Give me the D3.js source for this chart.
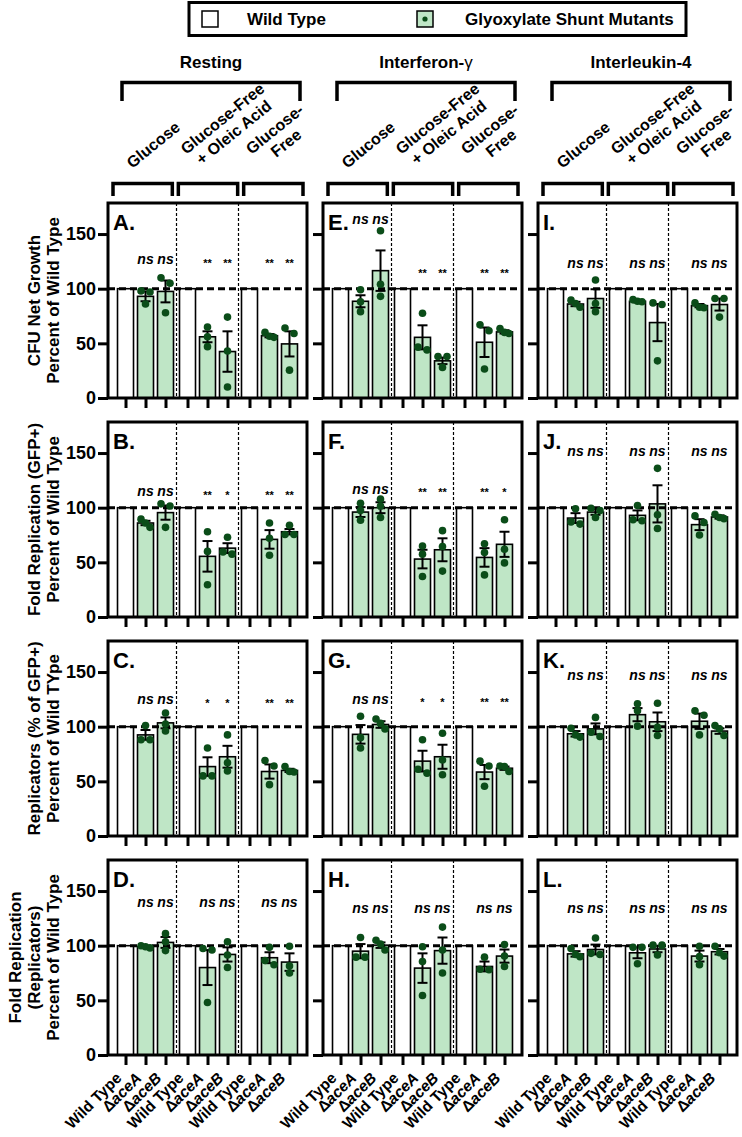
<!DOCTYPE html>
<html><head><meta charset="utf-8">
<script src="https://cdn.jsdelivr.net/npm/d3@7"></script>
<style>
body{margin:0;background:#fff}
svg{display:block}
text{font-family:"Liberation Sans",Arial,Helvetica,sans-serif;fill:#000}
</style>
</head><body>
<svg id="chart" width="742" height="1137"></svg>
<script>
// ---------- labels ----------
const legendLabels = ["Wild Type", "Glyoxylate Shunt Mutants"];
const stimuli = ["Resting", "Interferon-", "Interleukin-4"];
const stimulusSymbols = ["", "γ", ""];
const conditions = [["Glucose"], ["Glucose-Free", "+ Oleic Acid"], ["Glucose-", "Free"]];
const strainPrefix = ["", "Δ", "Δ"];
const strainNames = ["Wild Type", "aceA", "aceB"];
const metricTitles = [
  ["CFU Net Growth", "Percent of Wild Type"],
  ["Fold Replication (GFP+)", "Percent of Wild Type"],
  ["Replicators (% of GFP+)", "Percent of Wild TYpe"],
  ["Fold Replication", "(Replicators)", "Percent of Wild Type"]
];
const panelLetters = [["A","E","I"],["B","F","J"],["C","G","K"],["D","H","L"]];
const yTicks = [0, 50, 100, 150];
const wildTypeValue = 100;

// ---------- data: rows = [mean, SEM, point1, point2, point3]
// order: Glucose ΔaceA, Glucose ΔaceB, GF+Oleic ΔaceA, GF+Oleic ΔaceB, GF ΔaceA, GF ΔaceB
const panelA = [[93,4.5,98,97,86],[97.5,10,110,105,78],[56,5,65,56,47],[42.5,18.5,74,43,10],[57,1.5,60,56.5,55.5],[49.5,11.5,64,59,25.5]];
const panelB = [[86,2,89.5,82,86],[95.5,6.5,103.5,101.5,82],[55.5,14,78,60,29.5],[63,4.5,73,57.5,59.5],[71,8.5,86,72,56.5],[78,2.5,84,75.5,75.5]];
const panelC = [[92.5,4.5,101,88,88],[103.5,5,112.5,102.5,96],[63.5,8.5,80.5,55,55],[72.5,10,92.5,67,59.5],[59,6.5,69,64,47],[60,1.5,63.5,59,58.5]];
const panelD = [[99,0.8,100,99,98],[103,5,111,103.5,95.5],[80,16,97.5,96,48],[92,6.5,103.5,91.5,80],[89,5,98.5,82.5,86.5],[85,8,99.5,75,81.5]];
const panelE = [[88.5,5.5,99,88,79],[116.5,18.5,153,104,93],[55.5,11,77.5,44,46.5],[34,3,38,38,28],[51,13.5,67,61.5,26.5],[60.5,1.5,63.5,60,59]];
const panelF = [[96,4.5,104,97.5,88.5],[100,5,108,101.5,91],[53,8.5,65,57.5,37],[61.5,10.5,79,64.5,42],[54.5,8.5,67,59,38.5],[66.5,11.5,89,62,49.5]];
const panelG = [[93,8.5,109.5,90,80.5],[102,3,107,103,98],[68.5,9.5,88,57.5,61],[72.5,11,94,69.5,56],[58.5,6.5,68.5,64,45.5],[62,1.5,64,63.5,59]];
const panelH = [[95,6.5,107.5,89.5,89.5],[100.5,2.5,105,101.5,96],[79.5,13.5,99,85.5,54.5],[95.5,12,117,96,75],[81,4.5,89.5,78,78.5],[90.5,6,101,90.5,81]];
const panelI = [[86,2,89.5,83,86.5],[91,8.5,108,86.5,79],[88.5,1,90,88.5,88],[69,17,87,85.5,34],[84.5,1.5,87,83,82.5],[85.5,5.5,91,91,74]];
const panelJ = [[90.5,4.5,99,85,87],[96,2.5,99.5,97.5,91],[93,4.5,102,88,89],[103.5,17,136,93.5,81],[84.5,5,92.5,86.5,75],[91.5,1.5,94,91,90]];
const panelK = [[93.5,2.5,98.5,90.5,92.5],[98,5,108.5,91,95],[111,6,121,114.5,100.5],[104.5,8.5,121.5,99.5,92],[105,7,114.5,110.5,92.5],[96,2.5,101,98,92]];
const panelL = [[92.5,2.5,97.5,90,92],[96.5,4.5,107,92,93],[93.5,5,98.5,98.5,83.5],[97,3,100.5,100.5,91.5],[90.5,5,99.5,90,82.5],[94.5,2.5,99.5,93.5,90.5]];

// significance labels (same order as data rows)
const sigA = ["ns","ns","**","**","**","**"];
const sigB = ["ns","ns","**","*","**","**"];
const sigC = ["ns","ns","*","*","**","**"];
const sigD = ["ns","ns","ns","ns","ns","ns"];
const sigE = ["ns","ns","**","**","**","**"];
const sigF = ["ns","ns","**","**","**","*"];
const sigG = ["ns","ns","*","*","**","**"];
const sigH = ["ns","ns","ns","ns","ns","ns"];
const sigI = ["ns","ns","ns","ns","ns","ns"];
const sigJ = ["ns","ns","ns","ns","ns","ns"];
const sigK = ["ns","ns","ns","ns","ns","ns"];
const sigL = ["ns","ns","ns","ns","ns","ns"];
// label heights (y value) per condition group
const sigLevelA = [126,126,126], sigLevelB = [114,114,114], sigLevelC = [124.5,124.5,124.5], sigLevelD = [139,139,139];
const sigLevelE = [163,117,117], sigLevelF = [116,117,117], sigLevelG = [124,125,125], sigLevelH = [133,133,133];
const sigLevelI = [122.5,122.5,122.5], sigLevelJ = [150.5,150.5,150.5], sigLevelK = [146.5,146.5,146.5], sigLevelL = [133,133,133];

// ---------- tables built from arrays ----------
const dataTable = {A:panelA,B:panelB,C:panelC,D:panelD,E:panelE,F:panelF,G:panelG,H:panelH,I:panelI,J:panelJ,K:panelK,L:panelL};
const sigTable = {A:sigA,B:sigB,C:sigC,D:sigD,E:sigE,F:sigF,G:sigG,H:sigH,I:sigI,J:sigJ,K:sigK,L:sigL};
const levelTable = {A:sigLevelA,B:sigLevelB,C:sigLevelC,D:sigLevelD,E:sigLevelE,F:sigLevelF,G:sigLevelG,H:sigLevelH,I:sigLevelI,J:sigLevelJ,K:sigLevelK,L:sigLevelL};

// ---------- style ----------
const GREEN = "#bfe6c6", DOT = "#0b4d19";
const svg = d3.select("#chart");

const colScale = d3.scaleBand().domain([0,1,2]).range([108,737]).paddingInner(16/215).paddingOuter(0);
const rowScale = d3.scaleBand().domain([0,1,2,3]).range([203,1055]).paddingInner(24/219).paddingOuter(0);
const PW = colScale.bandwidth(), PH = rowScale.bandwidth();
const yMax = 178.4;
const groupScale = d3.scaleBand().domain([0,1,2]).range([0,PW]).paddingInner(0).paddingOuter(0.105);
const strainScale = d3.scaleBand().domain([0,1,2]).range([0,groupScale.bandwidth()]).paddingInner(0.2).paddingOuter(0.15);
const bracketScale = d3.scaleBand().domain([0,1,2]).range([5,PW-4]).paddingInner(0.092);
const bw = strainScale.bandwidth();
const cx = (gi, si) => groupScale(gi) + strainScale(si) + bw/2;

// ---------- legend ----------
const leg = svg.append("g");
leg.append("rect").attr("x",189).attr("y",2.5).attr("width",497).attr("height",33).attr("fill","none").attr("stroke","#000").attr("stroke-width",3);
leg.append("rect").attr("x",202).attr("y",11).attr("width",16).attr("height",16).attr("fill","#fff").attr("stroke","#000").attr("stroke-width",1.5);
leg.append("text").attr("x",247).attr("y",25).attr("font-size",17).attr("font-weight","bold").text(legendLabels[0]);
leg.append("rect").attr("x",417).attr("y",11).attr("width",16).attr("height",16).attr("fill",GREEN).attr("stroke","#000").attr("stroke-width",1.5);
leg.append("circle").attr("cx",425).attr("cy",19).attr("r",2.6).attr("fill",DOT);
leg.append("text").attr("x",465).attr("y",25).attr("font-size",17).attr("font-weight","bold").text(legendLabels[1]);

// ---------- column headers ----------
[0,1,2].forEach(c => {
  const x0 = colScale(c);
  const hg = svg.append("g").attr("transform",`translate(${x0},0)`);
  const t = hg.append("text").attr("x",(14+PW-7)/2).attr("y",68).attr("text-anchor","middle")
    .attr("font-size",17).attr("font-weight","bold").text(stimuli[c]);
  if (stimulusSymbols[c]) t.append("tspan").attr("font-weight","normal").text(stimulusSymbols[c]);
  hg.append("path").attr("d",`M14,101V82.5H${PW-7}V101`).attr("fill","none").attr("stroke","#000").attr("stroke-width",3.5);
  [0,1,2].forEach(gi => {
    const bx = bracketScale(gi), bb = bracketScale.bandwidth();
    hg.append("path").attr("d",`M${bx},196V183.5H${bx+bb}V196`).attr("fill","none").attr("stroke","#000").attr("stroke-width",3.5);
    const lg = hg.append("g").attr("transform",`translate(${bx+bb/2-8},172) rotate(-39)`);
    const lines = conditions[gi];
    const texts = lines.map((ln,i) => lg.append("text").attr("y", -4 - (lines.length-1-i)*18)
      .attr("text-anchor","middle").attr("font-size",16).attr("font-weight","bold").text(ln));
    const maxW = d3.max(texts, t => t.node().getComputedTextLength());
    texts.forEach(t => t.attr("x", maxW/2));
  });
});

// ---------- dot layout (cluster overlapping points side by side) ----------
function swarm(vals, y) {
  const pts = vals.map(v => ({v, py:y(v), dx:0})).sort((a,b)=>a.py-b.py);
  const clusters = [];
  pts.forEach(p => {
    const last = clusters[clusters.length-1];
    if (last && p.py - last[last.length-1].py < 7) last.push(p); else clusters.push([p]);
  });
  clusters.forEach(cl => {
    const sp = cl.length === 2 ? 9 : 4.5;
    cl.forEach((p,i) => p.dx = (i-(cl.length-1)/2)*sp);
  });
  return pts;
}

// ---------- panels ----------
panelLetters.forEach((row, r) => row.forEach((letter, c) => {
  const x0 = colScale(c), top = rowScale(r), zero = top + PH;
  const y = d3.scaleLinear().domain([0,yMax]).range([zero, top]);
  const data = dataTable[letter], sig = sigTable[letter], lvl = levelTable[letter];
  const g = svg.append("g").attr("transform",`translate(${x0},0)`);

  // bars
  [0,1,2].forEach(gi => [0,1,2].forEach(si => {
    const v = si === 0 ? wildTypeValue : data[gi*2+si-1][0];
    g.append("rect").attr("x", groupScale(gi)+strainScale(si)).attr("y", y(v))
      .attr("width", bw).attr("height", zero - y(v))
      .attr("fill", si === 0 ? "#fff" : GREEN).attr("stroke","#000").attr("stroke-width",1.6);
  }));

  // group separators
  [1,2].forEach(gi => {
    g.append("line").attr("x1",groupScale(gi)).attr("x2",groupScale(gi)).attr("y1",top).attr("y2",zero)
      .attr("stroke","#000").attr("stroke-width",1.2).attr("stroke-dasharray","3,2");
  });

  // reference line at 100
  g.append("line").attr("x1",0).attr("x2",PW).attr("y1",y(wildTypeValue)).attr("y2",y(wildTypeValue))
    .attr("stroke","#000").attr("stroke-width",3).attr("stroke-dasharray","7,4");

  // error bars
  data.forEach((d, k) => {
    const gi = Math.floor(k/2), si = k%2 + 1, xc = cx(gi, si);
    const [m, s] = d;
    g.append("line").attr("x1",xc).attr("x2",xc).attr("y1",y(m-s)).attr("y2",y(m+s)).attr("stroke","#000").attr("stroke-width",2);
    [m-s, m+s].forEach(v => g.append("line").attr("x1",xc-5).attr("x2",xc+5).attr("y1",y(v)).attr("y2",y(v)).attr("stroke","#000").attr("stroke-width",2));
  });

  // points
  data.forEach((d, k) => {
    const gi = Math.floor(k/2), si = k%2 + 1, xc = cx(gi, si);
    swarm(d.slice(2), y).forEach(p => g.append("circle").attr("cx", xc + p.dx).attr("cy", p.py).attr("r",3.8).attr("fill",DOT));
  });

  // significance labels
  sig.forEach((s, k) => {
    const gi = Math.floor(k/2), si = k%2 + 1;
    const isNs = s === "ns";
    g.append("text").attr("x", cx(gi, si)).attr("y", y(lvl[gi])).attr("dy", isNs ? "0.27em" : "0.62em")
      .attr("text-anchor","middle").attr("font-size", isNs ? 14 : 11).attr("font-weight","bold")
      .attr("font-style", isNs ? "italic" : "normal").text(s);
  });

  // frame
  g.append("rect").attr("x",0).attr("y",top).attr("width",PW).attr("height",PH)
    .attr("fill","none").attr("stroke","#000").attr("stroke-width",3);

  // y axis
  const ya = g.append("g").call(d3.axisLeft(y).tickValues(yTicks).tickSize(10).tickSizeOuter(0).tickPadding(2)
    .tickFormat(c === 0 ? d3.format("d") : () => ""));
  ya.select(".domain").remove();
  ya.selectAll(".tick line").attr("stroke","#000").attr("stroke-width",3);
  ya.selectAll(".tick text").attr("font-size",18).attr("font-weight","bold").attr("font-family",'"Liberation Sans",Arial,sans-serif').attr("fill","#000");

  // x axis ticks
  const keys = [], pos = [];
  [0,1,2].forEach(gi => [0,1,2].forEach(si => { keys.push(gi+"-"+si); pos.push(cx(gi, si)); }));
  const xs = d3.scaleOrdinal().domain(keys).range(pos);
  const xa = g.append("g").attr("transform",`translate(0,${zero})`)
    .call(d3.axisBottom(xs).tickSize(10).tickSizeOuter(0).tickFormat(() => ""));
  xa.select(".domain").remove();
  xa.selectAll(".tick line").attr("stroke","#000").attr("stroke-width",3);

  // x labels on bottom row
  if (r === panelLetters.length - 1) {
    keys.forEach((key, i) => {
      const si = i % 3;
      const t = g.append("text").attr("transform",`translate(${pos[i]-3},${zero+24}) rotate(-45)`)
        .attr("text-anchor","end").attr("font-size",15.5).attr("font-weight","bold");
      if (strainPrefix[si]) t.append("tspan").text(strainPrefix[si]);
      t.append("tspan").attr("font-style", si === 0 ? "normal" : "italic").text(strainNames[si]);
    });
  }

  // panel letter
  g.append("text").attr("x",5).attr("y",top+27).attr("font-size",22).attr("font-weight","bold").text(letter + ".");

  // y title (first column)
  if (c === 0) {
    const lines = metricTitles[r];
    lines.forEach((ln, i) => {
      const xc = 53 - (lines.length-1-i)*19;
      svg.append("text").attr("transform",`translate(${xc+6},${top+PH/2}) rotate(-90)`)
        .attr("text-anchor","middle").attr("font-size",17).attr("font-weight","bold").text(ln);
    });
  }
}));
</script>
</body></html>
